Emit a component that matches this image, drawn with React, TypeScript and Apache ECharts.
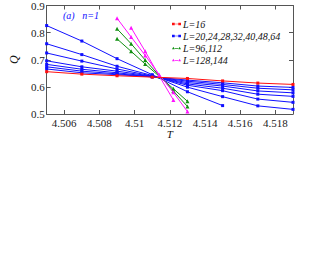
import React, { useEffect, useRef } from "react";
import * as echarts from "echarts";

const FONT = "Liberation Serif";

const xTickLabels = ["4.506", "4.508", "4.51", "4.512", "4.514", "4.516", "4.518"];
const yTickLabels = ["0.5", "0.6", "0.7", "0.8", "0.9"];

const tBroad = [4.505, 4.507, 4.509, 4.511, 4.513, 4.515, 4.517, 4.519];
const tNarrow = [4.509, 4.5098, 4.5106, 4.5114, 4.5122, 4.513];

const q16 = [0.656, 0.647, 0.641, 0.636, 0.631, 0.622, 0.614, 0.609];
const q20 = [0.666, 0.652, 0.645, 0.637, 0.625, 0.615, 0.603, 0.598];
const q24 = [0.674, 0.658, 0.648, 0.637, 0.621, 0.609, 0.595, 0.589];
const q28 = [0.683, 0.665, 0.652, 0.638, 0.616, 0.603, 0.585, 0.578];
const q32 = [0.696, 0.674, 0.658, 0.639, 0.611, 0.595, 0.573, 0.565];
const q40 = [0.725, 0.695, 0.666, 0.640, 0.606, 0.586, 0.555, 0.543];
const q48 = [0.759, 0.719, 0.676, 0.642, 0.599, 0.564, 0.530, 0.517];
const q64 = [0.826, 0.769, 0.704, 0.645, 0.582, 0.531];

const q96 = [0.777, 0.731, 0.684, 0.639, 0.593, 0.547];
const q112 = [0.814, 0.759, 0.699, 0.641, 0.585, 0.528];
const q128 = [0.853, 0.784, 0.716, 0.645, 0.580, 0.509];
const t144 = [4.5098, 4.5106, 4.5114, 4.5122];
const q144 = [0.818, 0.731, 0.640, 0.552];

const NAME_RED = "L=16";
const NAME_BLUE = "L=20,24,28,32,40,48,64";
const NAME_GREEN = "L=96,112";
const NAME_MAG = "L=128,144";

const ICON_SQ = "path://M0,0h3v3h-3z M3,1.1h4v0.8h-4z M7,0h3v3h-3z";
const ICON_TRI = "path://M0,3L1.5,0L3,3z M3,1.6h4v0.8h-4z M7,3L8.5,0L10,3z";

const pair = (ts: number[], qs: number[]) => qs.map((q, i) => [ts[i], q]);

export default function App() {
  const ref = useRef<HTMLDivElement>(null);
  useEffect(() => {
    if (!ref.current) return;
    const chart = echarts.init(ref.current, undefined, { renderer: "svg" });
    const xTickValues = xTickLabels.map(Number);
    const axisColor = "#555";
    const mk = (name: string, data: number[][], color: string, symbol: string, size: number, z: number) => ({
      type: "line",
      name,
      data,
      symbol,
      symbolSize: size,
      showSymbol: true,
      z,
      lineStyle: { color, width: 1 },
      itemStyle: { color },
      emphasis: { disabled: true },
    });
    const blueSets = [q20, q24, q28, q32, q40, q48, q64];
    const series: any[] = [];
    blueSets.forEach((qs) => series.push(mk(NAME_BLUE, pair(tBroad, qs), "#1010ff", "rect", 3, 2)));
    series.push(mk(NAME_GREEN, pair(tNarrow, q96), "#109010", "triangle", 4, 3));
    series.push(mk(NAME_GREEN, pair(tNarrow, q112), "#109010", "triangle", 4, 3));
    series.push(mk(NAME_MAG, pair(tNarrow, q128), "#ff10ff", "triangle", 4, 4));
    series.push(mk(NAME_MAG, pair(t144, q144), "#ff10ff", "triangle", 4, 4));
    series.push(mk(NAME_RED, pair(tBroad, q16), "#ff1010", "rect", 3, 5));

    const xLabelFmt = (v: number) => {
      const i = xTickValues.findIndex((t) => Math.abs(t - v) < 1e-7);
      return i >= 0 ? xTickLabels[i] : "";
    };
    const yLabelFmt = (v: number) => {
      const i = yTickLabels.findIndex((t) => Math.abs(Number(t) - v) < 1e-7);
      return i >= 0 ? yTickLabels[i] : "";
    };

    chart.setOption({
      animation: false,
      grid: { left: 37, right: 37, top: 5, bottom: 141, containLabel: false },
      legend: {
        data: [
          { name: NAME_RED, icon: ICON_SQ },
          { name: NAME_BLUE, icon: ICON_SQ },
          { name: NAME_GREEN, icon: ICON_TRI },
          { name: NAME_MAG, icon: ICON_TRI },
        ],
        orient: "vertical",
        left: 172,
        top: 19,
        padding: 0,
        itemWidth: 9,
        itemHeight: 3,
        itemGap: 2,
        selectedMode: false,
        textStyle: { fontFamily: FONT, fontStyle: "italic", fontSize: 10, lineHeight: 9, color: "#111", padding: [0, 0, 0, -3] },
      },
      xAxis: [
        {
          type: "value",
          min: 4.505,
          max: 4.519,
          position: "bottom",
          name: "T",
          nameLocation: "middle",
          nameGap: 9,
          nameTextStyle: { fontFamily: FONT, fontStyle: "italic", fontSize: 11, color: "#111" },
          axisLine: { show: true, lineStyle: { color: axisColor, width: 1 } },
          axisTick: { show: true, inside: true, length: 4, customValues: xTickValues, lineStyle: { color: axisColor } },
          axisLabel: { customValues: xTickValues, formatter: xLabelFmt, fontFamily: FONT, fontSize: 11, color: "#222", margin: 3 },
          splitLine: { show: false },
        },
        {
          type: "value",
          min: 4.505,
          max: 4.519,
          position: "top",
          axisLine: { show: true, lineStyle: { color: axisColor, width: 1 } },
          axisTick: { show: true, inside: true, length: 4, customValues: xTickValues, lineStyle: { color: axisColor } },
          axisLabel: { show: false },
          splitLine: { show: false },
        },
      ],
      yAxis: [
        {
          type: "value",
          min: 0.5,
          max: 0.9,
          interval: 0.1,
          position: "left",
          name: "Q",
          nameLocation: "middle",
          nameGap: 22,
          nameTextStyle: { fontFamily: FONT, fontStyle: "italic", fontSize: 12, color: "#111" },
          axisLine: { show: true, lineStyle: { color: axisColor, width: 1 } },
          axisTick: { show: true, inside: true, length: 4, lineStyle: { color: axisColor } },
          axisLabel: { formatter: yLabelFmt, fontFamily: FONT, fontSize: 11, color: "#222", margin: 2 },
          splitLine: { show: false },
        },
        {
          type: "value",
          min: 0.5,
          max: 0.9,
          interval: 0.1,
          position: "right",
          axisLine: { show: true, lineStyle: { color: axisColor, width: 1 } },
          axisTick: { show: true, inside: true, length: 4, lineStyle: { color: axisColor } },
          axisLabel: { show: false },
          splitLine: { show: false },
        },
      ],
      graphic: [
        {
          type: "text",
          left: 63,
          top: 10,
          style: { text: "(a)   n=1", fontFamily: FONT, fontStyle: "italic", fontSize: 10, fill: "#1010ff" },
        },
      ],
      series,
    });
    return () => chart.dispose();
  }, []);
  return <div ref={ref} style={{ position: "absolute", left: 0, top: 0, width: 330, height: 255 }} />;
}
